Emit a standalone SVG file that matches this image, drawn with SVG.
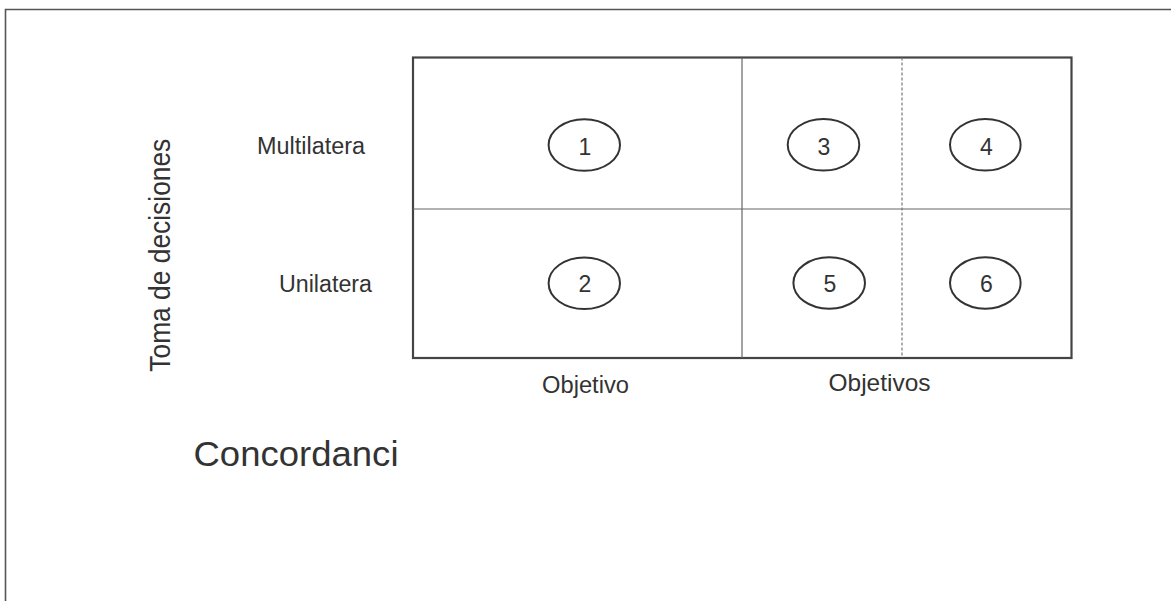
<svg xmlns="http://www.w3.org/2000/svg" width="1171" height="601" viewBox="0 0 1171 601">
<style>
  text { font-family: "Liberation Sans", Arial, sans-serif; fill: #333; }
  .lbl { font-size: 23.5px; }
  .num { font-size: 23px; text-anchor: middle; }
  .ell { fill: #fff; stroke: #333; stroke-width: 2; }
  .inner { stroke: #666; stroke-width: 1.2; fill: none; }
  .dash { stroke: #777; stroke-width: 1.2; stroke-dasharray: 3 2; fill: none; }
</style>
<rect width="1171" height="601" fill="#fff"/>
<path d="M5.5,601 V9.5 H1171" fill="none" stroke="#555" stroke-width="1.6"/>
<g id="grid">
  <rect x="413" y="57.5" width="658.5" height="300.5" fill="#fff" stroke="#444" stroke-width="2.2"/>
  <line class="inner" x1="413" y1="209" x2="1071.5" y2="209"/>
  <line class="inner" x1="742" y1="57.5" x2="742" y2="358"/>
  <line class="dash" x1="902" y1="57.5" x2="902" y2="358"/>
</g>
<g id="node1"><ellipse class="ell" cx="584.3" cy="145" rx="35.7" ry="25.8"/><text class="num" x="585" y="154.5">1</text></g>
<g id="node2"><ellipse class="ell" cx="584.3" cy="283.3" rx="35.7" ry="25.8"/><text class="num" x="585" y="292">2</text></g>
<g id="node3"><ellipse class="ell" cx="823.5" cy="144.8" rx="35.8" ry="25.8"/><text class="num" x="824" y="154.5">3</text></g>
<g id="node4"><ellipse class="ell" cx="985.3" cy="144.8" rx="35.3" ry="25.8"/><text class="num" x="986.5" y="155">4</text></g>
<g id="node5"><ellipse class="ell" cx="829.2" cy="283" rx="35.8" ry="25.7"/><text class="num" x="830" y="292">5</text></g>
<g id="node6"><ellipse class="ell" cx="985.3" cy="283" rx="35.3" ry="25.7"/><text class="num" x="986.5" y="292">6</text></g>
<g id="labels">
  <text class="lbl" x="257" y="154" textLength="108" lengthAdjust="spacingAndGlyphs">Multilatera</text>
  <text class="lbl" x="279" y="291.5" textLength="93" lengthAdjust="spacingAndGlyphs">Unilatera</text>
  <text x="170" y="371.7" font-size="30" transform="rotate(-90 170 371.7)" textLength="233" lengthAdjust="spacingAndGlyphs">Toma de decisiones</text>
  <text x="542" y="393" font-size="23.5" textLength="87" lengthAdjust="spacingAndGlyphs">Objetivo</text>
  <text x="828.5" y="391" font-size="24" textLength="102" lengthAdjust="spacingAndGlyphs">Objetivos</text>
  <text x="193.5" y="466" font-size="35.5" textLength="205" lengthAdjust="spacingAndGlyphs">Concordanci</text>
</g>
</svg>
